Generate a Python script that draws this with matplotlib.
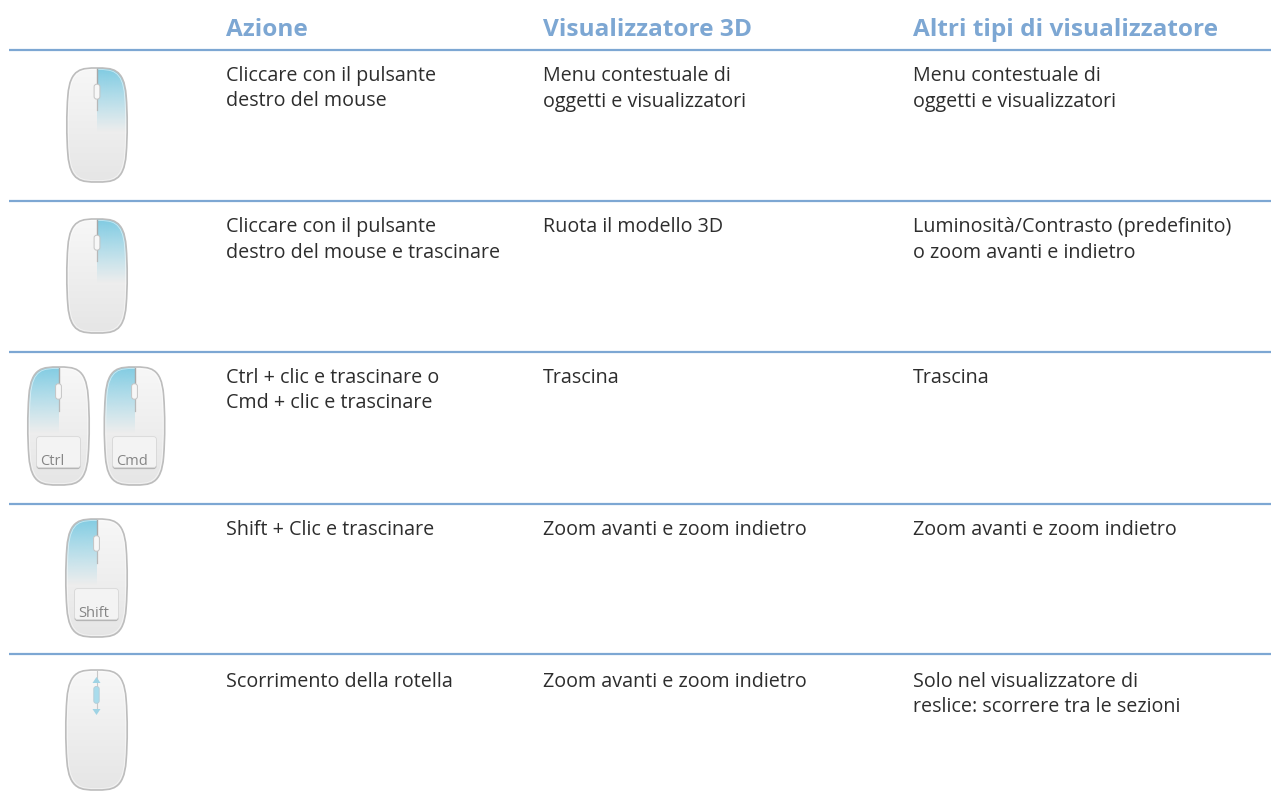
import numpy as np
import matplotlib
matplotlib.use("Agg")
import matplotlib.pyplot as plt
from matplotlib.path import Path
from matplotlib.patches import PathPatch, FancyBboxPatch, Polygon
from matplotlib.colors import to_rgb

plt.rcParams['font.family'] = ['Open Sans', 'DejaVu Sans']

headers = ["Azione", "Visualizzatore 3D", "Altri tipi di visualizzatore"]
actions = [
    ["Cliccare con il pulsante", "destro del mouse"],
    ["Cliccare con il pulsante", "destro del mouse e trascinare"],
    ["Ctrl + clic e trascinare o", "Cmd + clic e trascinare"],
    ["Shift + Clic e trascinare"],
    ["Scorrimento della rotella"],
]
viewer_3d = [
    ["Menu contestuale di", "oggetti e visualizzatori"],
    ["Ruota il modello 3D"],
    ["Trascina"],
    ["Zoom avanti e zoom indietro"],
    ["Zoom avanti e zoom indietro"],
]
other_viewers = [
    ["Menu contestuale di", "oggetti e visualizzatori"],
    ["Luminosità/Contrasto (predefinito)", "o zoom avanti e indietro"],
    ["Trascina"],
    ["Zoom avanti e zoom indietro"],
    ["Solo nel visualizzatore di", "reslice: scorrere tra le sezioni"],
]
column_x = [226, 543, 913]
rule_y = [50, 201, 352, 504, 654]
first_baseline = [81, 232, 383, 535, 687]
line_step = 25.5

# cx, top, width, height, highlighted side, key label
mice = [
    (97, 68, 60, 114, "right", None),
    (97, 219, 60, 114, "right", None),
    (58.5, 367, 61, 118, "left", "Ctrl"),
    (134.5, 367, 60, 118, "left", "Cmd"),
    (96.5, 519, 61, 118, "left", "Shift"),
    (96.5, 670, 61, 120, "scroll", None),
]

BLUE = "#7da7d3"
INK = "#2d2d2d"
CYAN = to_rgb("#7fcbe2")


def mouse_path(cx, top, w, h):
    verts = [(0, 0), (.5, 0), (.9, .0), (.97, .24), (1.02, .4), (1.02, .6), (.97, .76),
             (.9, 1), (.5, 1), (0, 1), (-.5, 1), (-.9, 1), (-.97, .76), (-1.02, .6),
             (-1.02, .4), (-.97, .24), (-.9, 0), (-.5, 0), (0, 0)]
    codes = [Path.MOVETO] + [Path.CURVE4] * 18
    return Path([(cx + u * w / 2, top + v * h) for u, v in verts], codes)


def vgrad(ax, x0, x1, y0, y1, top, bottom, clip):
    n = 256
    t = np.linspace(0, 1, n)[:, None, None]
    img = np.array(top)[None, None, :] * (1 - t) + np.array(bottom)[None, None, :] * t
    im = ax.imshow(img, extent=(x0, x1, y1, y0), aspect='auto', zorder=2, interpolation='antialiased')
    im.set_clip_path(clip)


def draw_mouse(ax, cx, top, w, h, side, key):
    path = mouse_path(cx, top, w, h)
    ax.add_patch(PathPatch(path, fc='none', ec='#bdbdbd', lw=1.2, zorder=4))
    body = PathPatch(path, fc='#f0f0f0', ec='none', zorder=1)
    ax.add_patch(body)
    vgrad(ax, cx - w / 2 - 1, cx + w / 2 + 1, top, top + h,
          (.97, .97, .97, 1), (.9, .9, .9, 1), body)
    if side in ("left", "right"):
        x0, x1 = (cx - w / 2 - 1, cx) if side == "left" else (cx, cx + w / 2 + 1)
        vgrad(ax, x0, x1, top, top + h * .56, CYAN + (1,), CYAN + (0,), body)
    ax.add_patch(PathPatch(mouse_path(cx, top + 1.5, w - 3, h - 3), fc='none', ec='white', lw=.6, alpha=.55, zorder=4))
    if side == "scroll":
        ax.plot([cx, cx], [top + 1, top + h * .34], color='#c8c8c8', lw=.8, zorder=5)
        ax.add_patch(FancyBboxPatch((cx - 1.8, top + h * .145), 3.6, h * .125,
                                    boxstyle="round,pad=0.9,rounding_size=2.4", fc='#a9dcec', ec='#b4ccd6', lw=.6, zorder=6))
        ax.add_patch(Polygon([(cx, top + 7), (cx - 4, top + 13), (cx + 4, top + 13)], fc='#9fd3e4', ec='none', zorder=6))
        ax.add_patch(Polygon([(cx, top + 45), (cx - 4, top + 39), (cx + 4, top + 39)], fc='#9fd3e4', ec='none', zorder=6))
    else:
        ax.plot([cx, cx], [top + .5, top + h * .14], color='#a8a8a8', lw=1, zorder=5)
        ax.plot([cx, cx], [top + h * .27, top + h * .37], color='#b8b8b8', lw=.9, zorder=5)
        ax.add_patch(FancyBboxPatch((cx - 2, top + h * .15), 4, h * .115,
                                    boxstyle="round,pad=0.9,rounding_size=2.6", fc='#f7f7f7', ec='#c4c4c4', lw=.7, zorder=6))
    if key:
        kx, ky, kw, kh = cx - 22, top + h * .59, 44, 31
        ax.add_patch(FancyBboxPatch((kx, ky + 1.5), kw, kh, boxstyle="round,pad=0,rounding_size=3",
                                    fc='#b4b4b4', ec='none', zorder=6))
        ax.add_patch(FancyBboxPatch((kx, ky), kw, kh, boxstyle="round,pad=0,rounding_size=3",
                                    fc='#f3f3f3', ec='#d8d8d8', lw=.6, zorder=7))
        ax.text(kx + 4, ky + kh - 3, key, fontsize=10.5, color='#858585', va='baseline', ha='left', zorder=8)


fig = plt.figure(figsize=(12.71, 7.99), dpi=100)
ax = fig.add_axes([0, 0, 1, 1])
ax.axis('off')

for m in mice:
    draw_mouse(ax, *m)
ax.set_xlim(0, 1271)
ax.set_ylim(799, 0)

for x, h in zip(column_x, headers):
    ax.text(x, 36, h, fontsize=17.6, fontweight='bold', color=BLUE, va='baseline')

for y in rule_y:
    ax.plot([9, 1271], [y, y], color=BLUE, lw=1.6, solid_capstyle='butt', zorder=3)

for x, col in zip(column_x, [actions, viewer_3d, other_viewers]):
    for base, lines in zip(first_baseline, col):
        for i, line in enumerate(lines):
            ax.text(x, base + i * line_step, line, fontsize=14.2, color=INK, va='baseline')

fig.savefig("out.png", dpi=100)
